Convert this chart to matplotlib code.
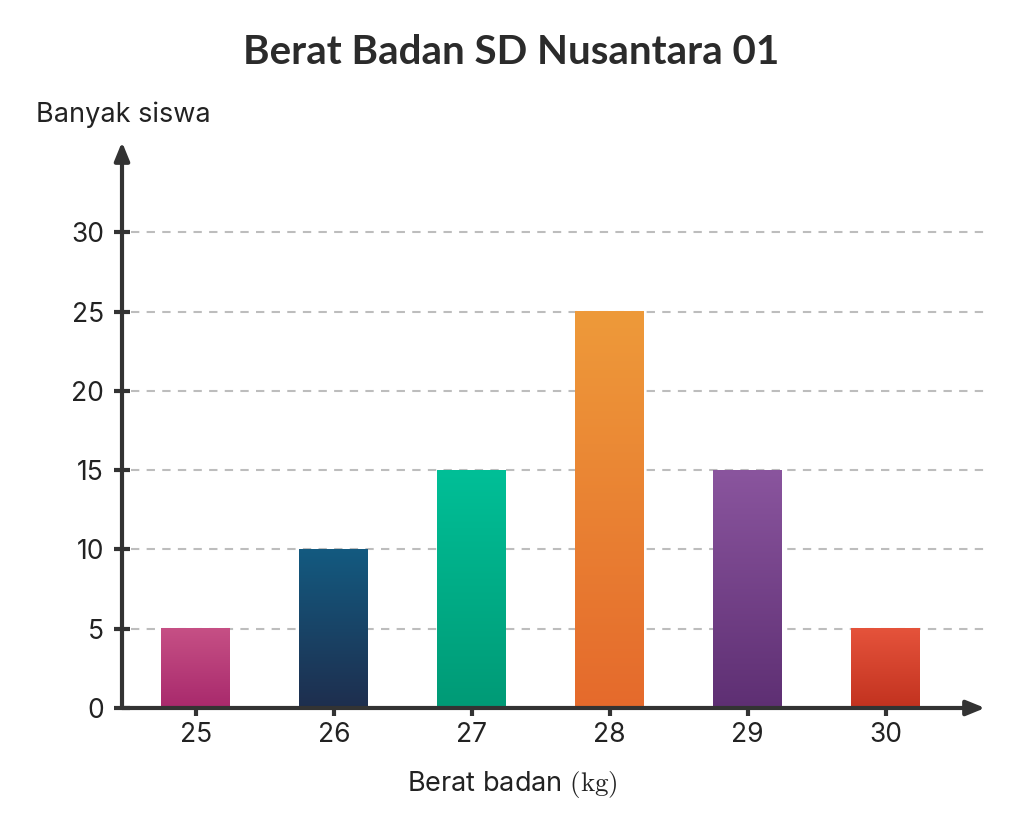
import matplotlib
matplotlib.use("Agg")
import matplotlib.pyplot as plt
import numpy as np
from matplotlib.colors import LinearSegmentedColormap

categories = ["25", "26", "27", "28", "29", "30"]
values = [5, 10, 15, 25, 15, 5]
top_colors = ["#C65085", "#135A80", "#00BF97", "#EE9A3A", "#8A559E", "#E5533B"]
bottom_colors = ["#A8296C", "#1E2E4E", "#009A76", "#E56A2C", "#5E2F73", "#C2321F"]
yticks = [0, 5, 10, 15, 20, 25, 30]

plt.rcParams['mathtext.fontset'] = 'cm'
W, H = 1023, 826
fig = plt.figure(figsize=(W / 100, H / 100), dpi=100)
ax = fig.add_axes([122 / W, (H - 708) / H, (985 - 122) / W, (708 - 142) / H])
ax.set_xlim(-0.536, 5.72)
ax.set_ylim(0, 35.7)

x = np.arange(len(categories))
bars = ax.bar(x, values, width=0.5, color="none", zorder=3)
grad = np.linspace(0, 1, 256).reshape(-1, 1)
for b, tc, bc in zip(bars, top_colors, bottom_colors):
    cmap = LinearSegmentedColormap.from_list("g", [bc, tc])
    x0, y0 = b.get_x(), b.get_y()
    ax.imshow(grad, cmap=cmap, origin="lower", aspect="auto",
              extent=(x0, x0 + b.get_width(), y0, y0 + b.get_height()), zorder=3)
ax.set_xlim(-0.536, 5.72)
ax.set_ylim(0, 35.7)

for yv in yticks[1:]:
    ax.axhline(yv, xmin=0.01, xmax=1.0, color="#BDBDBD", lw=1.5,
               linestyle=(0, (4, 3.5)), zorder=1)

for s in ax.spines.values():
    s.set_visible(False)

axis_col = "#333333"
ax.annotate("", xy=(1.0, 0), xytext=(0, 0), xycoords="axes fraction",
            arrowprops=dict(arrowstyle="-|>,head_length=1.1,head_width=0.45",
                            color=axis_col, lw=3, shrinkA=0, shrinkB=0), zorder=5)
ax.annotate("", xy=(0, 1.0), xytext=(0, 0), xycoords="axes fraction",
            arrowprops=dict(arrowstyle="-|>,head_length=1.1,head_width=0.45",
                            color=axis_col, lw=3, shrinkA=0, shrinkB=0), zorder=5)

ax.set_xticks(x)
ax.set_xticklabels(categories)
ax.set_yticks(yticks)
ax.set_yticklabels([str(v) for v in yticks])
ax.tick_params(axis="both", direction="inout", length=12, width=3, color=axis_col,
               labelsize=19, labelcolor="#222222", pad=4)
ax.tick_params(axis="y", pad=7)
for lab in ax.get_xticklabels() + ax.get_yticklabels():
    lab.set_family("Inter")

fig.text(511 / W, 1 - 52 / H, "Berat Badan SD Nusantara 01", ha="center", va="center",
         fontsize=29, fontweight="bold", family="Lato", color="#2B2B2B")
fig.text(36 / W, 1 - 115 / H, "Banyak siswa", ha="left", va="center",
         fontsize=19.5, family="Inter", color="#222222")
fig.text(512 / W, 1 - 784 / H, r"Berat badan $(\mathrm{kg})$", ha="center", va="center",
         fontsize=19.5, family="Inter", color="#222222")

fig.savefig("out.png", dpi=100, facecolor="white")
